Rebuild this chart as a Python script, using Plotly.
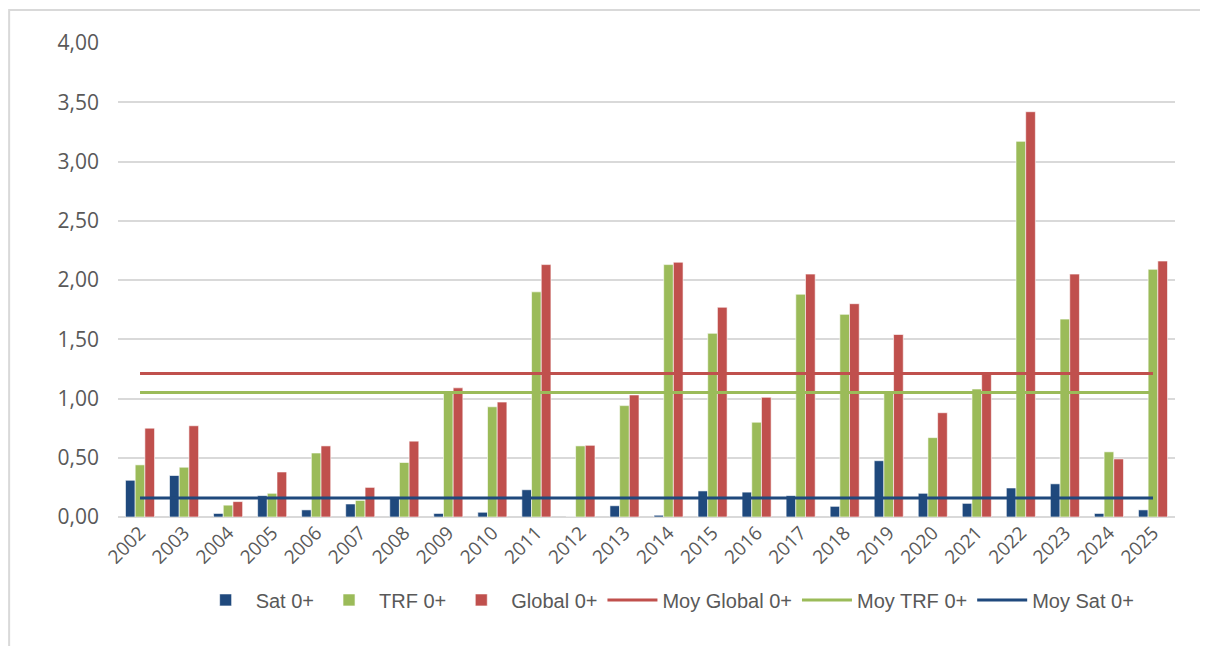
import plotly.graph_objects as go

# values
years = [str(y) for y in range(2002, 2026)]
sat = [0.31, 0.35, 0.03, 0.18, 0.06, 0.11, 0.17, 0.03, 0.04, 0.23, 0.00, 0.095,
       0.015, 0.22, 0.21, 0.18, 0.09, 0.475, 0.20, 0.115, 0.245, 0.28, 0.03, 0.06]
trf = [0.44, 0.42, 0.10, 0.20, 0.54, 0.14, 0.46, 1.06, 0.93, 1.90, 0.60, 0.94,
       2.13, 1.55, 0.80, 1.88, 1.71, 1.06, 0.67, 1.08, 3.17, 1.67, 0.55, 2.09]
glob = [0.75, 0.77, 0.13, 0.38, 0.60, 0.25, 0.64, 1.09, 0.97, 2.13, 0.605, 1.03,
        2.15, 1.77, 1.01, 2.05, 1.80, 1.54, 0.88, 1.21, 3.42, 2.05, 0.49, 2.16]
moy_global = 1.21
moy_trf = 1.05
moy_sat = 0.16

c_sat = "#1F497D"
c_trf = "#9BBB59"
c_glob = "#C0504D"

fig = go.Figure()
for name, vals, col in [("Sat 0+", sat, c_sat), ("TRF 0+", trf, c_trf), ("Global 0+", glob, c_glob)]:
    fig.add_trace(go.Bar(x=years, y=vals, name=name, marker=dict(color=col, line=dict(color="white", width=0.6))))

for name, v, col in [("Moy Global 0+", moy_global, c_glob), ("Moy TRF 0+", moy_trf, c_trf), ("Moy Sat 0+", moy_sat, c_sat)]:
    fig.add_trace(go.Scatter(x=years, y=[v] * len(years), name=name, mode="lines",
                             line=dict(color=col, width=3)))

# page body has an 8px margin, so the figure margins are shifted by that
fig.update_layout(
    width=1208, height=646,
    margin=dict(l=110, r=41, t=35, b=137, autoexpand=False),
    paper_bgcolor="white", plot_bgcolor="white",
    separators=", ",
    barmode="group", bargap=0.34, bargroupgap=0,
    font=dict(family="Open Sans", size=19, color="#595959"),
    showlegend=True,
    legend=dict(orientation="h", x=0.52, xanchor="center", y=-0.175, yanchor="middle",
                font=dict(family="Liberation Sans", size=20, color="#595959"),
                itemwidth=50, tracegroupgap=0, traceorder="normal"),
    xaxis=dict(type="category", tickangle=-45, showgrid=False, showline=False, ticks="",
               tickfont=dict(family="Open Sans", size=19, color="#595959")),
    yaxis=dict(range=[0, 4], dtick=0.5, tickformat=".2f", showgrid=True, gridcolor="#D9D9D9",
               gridwidth=1.5, zeroline=True, zerolinecolor="#D9D9D9", zerolinewidth=1.5,
               ticks="", ticklen=0, ticklabelstandoff=18,
               tickfont=dict(family="Open Sans", size=21, color="#595959")),
    shapes=[dict(type="rect", xref="paper", yref="paper", x0=-0.103, x1=1.1, y0=-0.3, y1=1.0696,
                 line=dict(color="#D9D9D9", width=2), layer="below")],
)

fig.write_html("out.html")
